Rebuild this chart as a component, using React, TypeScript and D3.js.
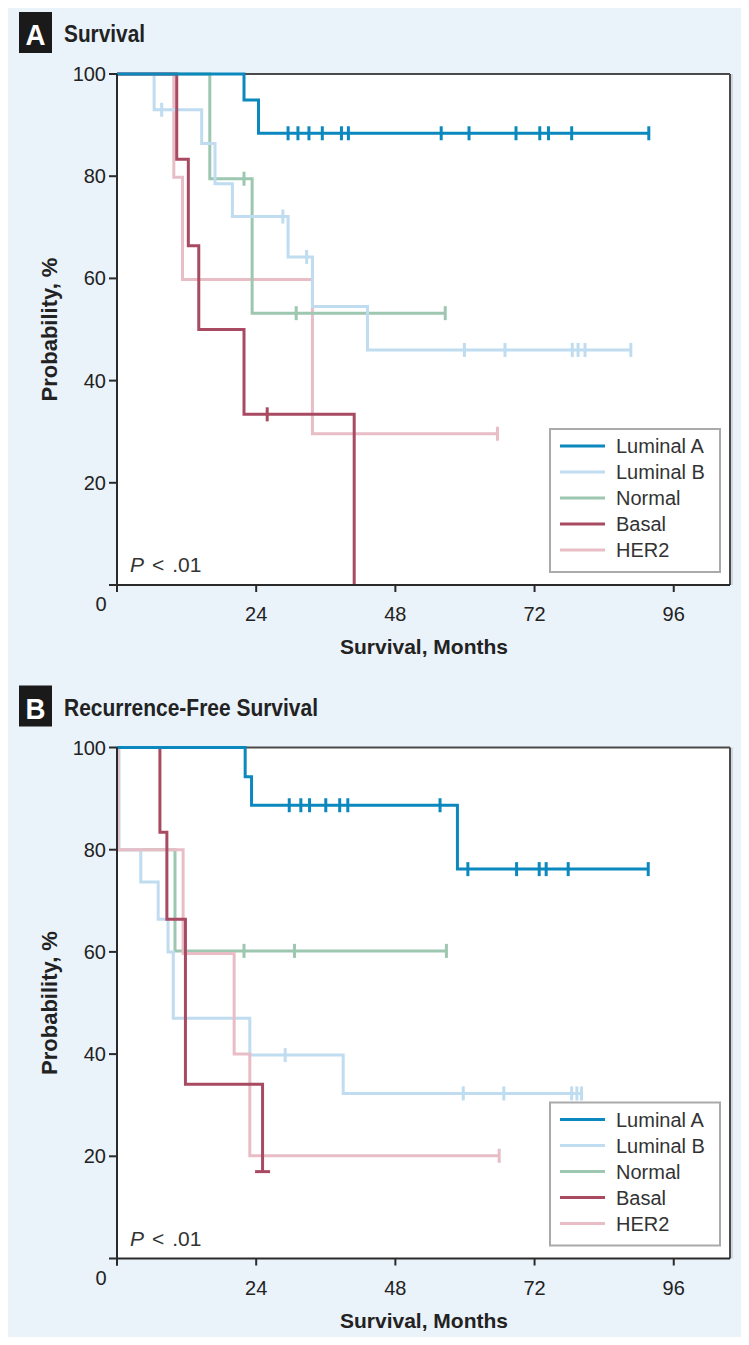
import React from 'react';
import * as d3 from 'd3';

// ---------- data ----------
const SERIES_NAMES = ['Luminal A', 'Luminal B', 'Normal', 'Basal', 'HER2'];
const SERIES_COLORS = ['#0b88bd', '#bfdcf0', '#9dc7b0', '#a84a61', '#e8bdc6'];
const X_TICKS = [0, 24, 48, 72, 96];
const Y_TICKS = [20, 40, 60, 80, 100];
const X_MAX = 105.7;

// Panel A: Survival — steps are [month, survival %] after each drop
const survLumA_steps = [[21.9, 94.9], [24.4, 88.4]];
const survLumA_censor = [29.5, 31.2, 33.1, 35.4, 38.7, 39.9, 55.9, 60.7, 68.8, 72.9, 74.4, 78.4];
const survLumA_end = 91.7;

const survLumB_steps = [[6.4, 93], [14.6, 86.4], [16.9, 78.5], [19.9, 72.1], [29.5, 64.2], [33.7, 54.5], [43.2, 46]];
const survLumB_censor = [7.7, 28.6, 32.7, 59.9, 66.9, 78.5, 79.5, 80.7];
const survLumB_end = 88.6;

const survNormal_steps = [[16.0, 79.5], [23.3, 53.2]];
const survNormal_censor = [21.9, 30.9];
const survNormal_end = 56.6;

const survBasal_steps = [[10.3, 83.3], [12.3, 66.4], [14.1, 50], [21.9, 33.4], [40.9, 0]];
const survBasal_censor = [25.9];
const survBasal_end = 40.9;

const survHER2_steps = [[9.8, 79.8], [11.3, 59.8], [33.7, 29.6]];
const survHER2_censor: number[] = [];
const survHER2_end = 65.6;

// Panel B: Recurrence-Free Survival
const rfsLumA_steps = [[22.1, 94.3], [23.2, 88.7], [58.7, 76.2]];
const rfsLumA_censor = [29.7, 31.7, 33.2, 36.0, 38.4, 39.8, 55.7, 60.5, 68.9, 72.8, 74.0, 77.8];
const rfsLumA_end = 91.6;

const rfsLumB_steps = [[0.3, 80], [4.1, 73.7], [7.1, 66.4], [8.8, 60], [9.7, 47], [22.9, 39.8], [39.0, 32.3]];
const rfsLumB_censor = [29.0, 59.7, 66.7, 78.4, 79.3];
const rfsLumB_end = 80.1;

const rfsNormal_steps = [[0.3, 80], [10.0, 60.2]];
const rfsNormal_censor = [21.9, 30.6];
const rfsNormal_end = 56.8;

const rfsBasal_steps = [[7.4, 83.4], [8.6, 66.4], [11.8, 34.1], [25.1, 17]];
const rfsBasal_censor: number[] = [];
const rfsBasal_end = 25.1;

const rfsHER2_steps = [[0.2, 80], [11.4, 59.7], [20.2, 40], [22.9, 20.1]];
const rfsHER2_censor: number[] = [];
const rfsHER2_end = 65.9;

type Curve = { steps: number[][]; censor: number[]; end: number; endMark: 'tick' | 'bar' | 'none' };

const PANEL_A: Curve[] = [
  { steps: survLumA_steps, censor: survLumA_censor, end: survLumA_end, endMark: 'tick' },
  { steps: survLumB_steps, censor: survLumB_censor, end: survLumB_end, endMark: 'tick' },
  { steps: survNormal_steps, censor: survNormal_censor, end: survNormal_end, endMark: 'tick' },
  { steps: survBasal_steps, censor: survBasal_censor, end: survBasal_end, endMark: 'none' },
  { steps: survHER2_steps, censor: survHER2_censor, end: survHER2_end, endMark: 'tick' },
];
const PANEL_B: Curve[] = [
  { steps: rfsLumA_steps, censor: rfsLumA_censor, end: rfsLumA_end, endMark: 'tick' },
  { steps: rfsLumB_steps, censor: rfsLumB_censor, end: rfsLumB_end, endMark: 'tick' },
  { steps: rfsNormal_steps, censor: rfsNormal_censor, end: rfsNormal_end, endMark: 'tick' },
  { steps: rfsBasal_steps, censor: rfsBasal_censor, end: rfsBasal_end, endMark: 'bar' },
  { steps: rfsHER2_steps, censor: rfsHER2_censor, end: rfsHER2_end, endMark: 'tick' },
];

const DRAW_ORDER_A = [4, 2, 1, 3, 0];
const DRAW_ORDER_B = [2, 1, 4, 3, 0];
const FONT = "'Liberation Sans', Arial, sans-serif";

function survivalAt(c: Curve, t: number) {
  let s = 100;
  for (const [tt, v] of c.steps) if (tt <= t) s = v;
  return s;
}

function Panel({ oy, letter, title, curves, order }: { oy: number; letter: string; title: string; curves: Curve[]; order: number[] }) {
  const left = 117, right = 730, top = 74 + oy, bottom = 585 + oy;
  const x = d3.scaleLinear().domain([0, X_MAX]).range([left, right]);
  const y = d3.scaleLinear().domain([0, 100]).range([bottom, top]);
  const line = d3.line<number[]>().x(d => x(d[0])).y(d => y(d[1])).curve(d3.curveStepAfter);
  const legX = 550, legY = 429 + oy;
  return (
    <g>
      <rect x={19} y={12 + oy} width={33} height={41} fill="#1a1a1a" />
      <text x={35.5} y={45 + oy} fill="#fff" fontFamily={FONT} fontWeight="bold" fontSize={29} textAnchor="middle"
        textLength={20} lengthAdjust="spacingAndGlyphs">{letter}</text>
      <text x={64} y={42 + oy} fill="#222" fontFamily={FONT} fontWeight="bold" fontSize={23}
        textLength={title === 'Survival' ? 81 : 254} lengthAdjust="spacingAndGlyphs">{title}</text>
      <rect x={left} y={top} width={right - left} height={bottom - top} fill="#fff" />
      <line x1={left} x2={right} y1={top} y2={top} stroke="#4a4a4a" strokeWidth={2} />
      <line x1={right} x2={right} y1={top} y2={bottom} stroke="#4a4a4a" strokeWidth={2} />
      <line x1={right + 2} x2={right + 2} y1={top} y2={bottom} stroke="#bbb" strokeWidth={1} />
      {order.map(i => {
        const c = curves[i];
        const pts = [[0, 100], ...c.steps, [c.end, c.steps.length ? c.steps[c.steps.length - 1][1] : 100]];
        const ticks = [...c.censor];
        if (c.endMark === 'tick') ticks.push(c.end);
        const endY = y(survivalAt(c, c.end));
        return (
          <g key={i}>
            <path d={line(pts) || ''} fill="none" stroke={SERIES_COLORS[i]} strokeWidth={3} />
            {ticks.map((t, k) => (
              <line key={k} x1={x(t)} x2={x(t)} y1={y(survivalAt(c, t)) - 7} y2={y(survivalAt(c, t)) + 7}
                stroke={SERIES_COLORS[i]} strokeWidth={3} />
            ))}
            {c.endMark === 'bar' && (
              <line x1={x(c.end) - 7.5} x2={x(c.end) + 7.5} y1={endY} y2={endY} stroke={SERIES_COLORS[i]} strokeWidth={3} />
            )}
          </g>
        );
      })}
      {/* axes */}
      <line x1={left} x2={left} y1={top} y2={bottom + 7} stroke="#2a2a2a" strokeWidth={2} />
      <line x1={left - 8} x2={right} y1={bottom} y2={bottom} stroke="#2a2a2a" strokeWidth={2} />
      {Y_TICKS.map(v => (
        <g key={v}>
          <line x1={left - 8} x2={left} y1={y(v)} y2={y(v)} stroke="#2a2a2a" strokeWidth={2} />
          <text x={106} y={y(v) + 7} textAnchor="end" fontFamily={FONT} fontSize={20} fill="#222">{v}</text>
        </g>
      ))}
      {X_TICKS.map(v => (
        <g key={v}>
          <line x1={x(v)} x2={x(v)} y1={bottom} y2={bottom + 7} stroke="#2a2a2a" strokeWidth={2} />
          {v !== 0 && <text x={x(v)} y={bottom + 36} textAnchor="middle" fontFamily={FONT} fontSize={20} fill="#222">{v}</text>}
        </g>
      ))}
      <text x={101} y={bottom + 26} textAnchor="middle" fontFamily={FONT} fontSize={20} fill="#222">0</text>
      <text x={424} y={bottom + 69} textAnchor="middle" fontFamily={FONT} fontWeight="bold" fontSize={21} fill="#222">Survival, Months</text>
      <text transform={`translate(57,${(top + bottom) / 2}) rotate(-90)`} textAnchor="middle" fontFamily={FONT}
        fontWeight="bold" fontSize={22} fill="#222">Probability, %</text>
      <text x={130} y={bottom - 13} fontFamily={FONT} fontSize={21} fill="#333">
        <tspan fontStyle="italic">P</tspan><tspan dx={8}>{'<'}</tspan><tspan dx={8}>.01</tspan>
      </text>
      {/* legend */}
      <rect x={legX} y={legY} width={170} height={143} fill="#fff" stroke="#aaa" strokeWidth={2} />
      {SERIES_NAMES.map((n, i) => (
        <g key={n}>
          <line x1={legX + 10} x2={legX + 55} y1={legY + 17 + i * 26} y2={legY + 17 + i * 26} stroke={SERIES_COLORS[i]} strokeWidth={3} />
          <text x={legX + 66} y={legY + 24 + i * 26} fontFamily={FONT} fontSize={20} fill="#333">{n}</text>
        </g>
      ))}
    </g>
  );
}

export default function App() {
  return (
    <svg width={749} height={1345} style={{ display: 'block', margin: '-8px' }}>
      <rect x={8} y={5} width={741} height={1336} fill="#eaf2fa" />
      <Panel oy={0} letter="A" title="Survival" curves={PANEL_A} order={DRAW_ORDER_A} />
      <Panel oy={673.5} letter="B" title="Recurrence-Free Survival" curves={PANEL_B} order={DRAW_ORDER_B} />
    </svg>
  );
}
